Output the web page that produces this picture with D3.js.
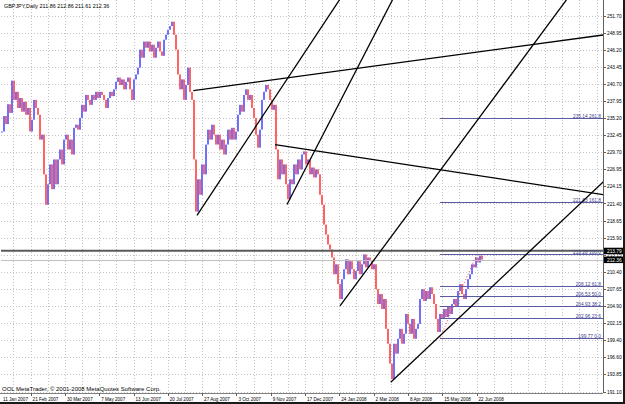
<!DOCTYPE html>
<html>
<head>
<meta charset="utf-8">
<script src="https://cdn.jsdelivr.net/npm/d3@7"></script>
<style>
  body { margin: 0; background: #fff; }
  svg { display: block; }
  text { font-family: "Liberation Sans", Arial, sans-serif; }
</style>
</head>
<body>
<script>
// GBPJPY daily closes, one value per two trading days (Jan 2007 - Jun 2008)
const closes = [
  233.0, 235.5, 234.2, 237.4, 236.0, 241.2, 238.1, 239.4, 236.8, 238.4,
  236.2, 237.8, 235.7, 236.8, 233.0, 234.9, 238.1, 236.8, 235.7, 231.7,
  232.5, 226.1, 221.2, 224.5, 227.7, 223.7, 228.5, 224.5, 228.5, 230.1,
  227.7, 231.7, 232.5, 230.1, 231.7, 229.3, 233.6, 234.1, 233.3, 235.2,
  237.3, 236.2, 238.9, 238.1, 237.3, 238.9, 238.1, 239.4, 238.4, 239.4,
  238.9, 238.1, 236.8, 238.4, 239.4, 238.7, 239.8, 241.0, 241.7, 240.5,
  241.4, 239.8, 241.0, 241.7, 239.8, 238.1, 241.4, 242.2, 243.3, 246.2,
  244.9, 247.5, 246.5, 247.5, 245.9, 247.0, 244.9, 246.5, 247.5, 245.9,
  245.2, 247.8, 248.6, 249.4, 250.0, 250.7, 248.6, 246.2, 242.2, 239.8,
  241.4, 238.1, 240.5, 243.3, 239.4, 238.1, 228.5, 220.1, 225.3, 222.8,
  227.7, 226.1, 230.9, 233.3, 231.7, 234.1, 232.5, 230.9, 232.5, 230.1,
  231.7, 229.3, 230.9, 233.3, 231.7, 233.6, 231.7, 233.0, 235.7, 237.3,
  236.2, 238.9, 239.8, 238.1, 238.9, 236.8, 235.2, 232.5, 230.4, 233.3,
  238.1, 239.4, 240.5, 239.8, 238.1, 236.5, 237.3, 230.1, 225.3, 228.5,
  226.1, 227.7, 224.5, 222.1, 225.3, 224.5, 227.7, 226.1, 228.5, 226.9,
  229.3, 229.8, 227.7, 228.5, 226.1, 227.2, 225.6, 226.9, 226.1, 222.8,
  221.2, 218.0, 216.4, 214.8, 214.0, 212.7, 210.0, 211.6, 208.4, 206.0,
  209.2, 210.8, 212.4, 210.0, 212.1, 210.8, 209.2, 210.5, 212.1, 210.0,
  211.6, 213.2, 211.1, 212.7, 212.1, 210.8, 211.6, 207.6, 205.2, 206.8,
  204.4, 206.0, 201.2, 198.8, 195.6, 193.1, 198.8, 197.2, 199.6, 201.2,
  198.8, 200.4, 203.6, 202.0, 200.4, 202.8, 199.6, 201.2, 202.0, 206.0,
  207.6, 205.7, 207.3, 206.0, 207.9, 206.8, 205.2, 202.8, 200.7, 203.6,
  202.8, 204.4, 203.1, 204.8, 203.6, 205.2, 206.0, 204.8, 207.3, 208.4,
  206.8, 206.0, 207.6, 209.2, 210.0, 211.6, 211.1, 212.7, 211.9, 213.0,
  212.36
];

const priceTicks = [251.70, 248.95, 246.20, 243.45, 240.70, 237.95, 235.20, 232.45,
  229.70, 226.95, 224.15, 221.40, 218.65, 215.90, 213.15, 210.40, 207.65, 204.90,
  202.15, 199.40, 196.60, 193.85, 191.10];

const dateLabels = ["21 Feb 2007", "30 Mar 2007", "7 May 2007", "13 Jun 2007", "20 Jul 2007",
  "27 Aug 2007", "3 Oct 2007", "9 Nov 2007", "17 Dec 2007", "24 Jan 2008", "2 Mar 2008",
  "8 Apr 2008", "15 May 2008", "22 Jun 2008"];
const dateTickBars = [14.3, 31.45, 48.6, 65.75, 82.9, 100.05, 117.2, 134.35, 151.5,
  168.65, 185.8, 202.95, 220.1, 237.25];
const firstDate = "11 Jan 2007";

// Fibonacci retracement: 0% at 199.77, 100% at 213.28
const fibLevels = [0.0, 23.6, 38.2, 50.0, 61.8, 100.0, 161.8, 261.8];
const fibPrices = [199.77, 202.96, 204.93, 206.53, 208.12, 213.28, 221.63, 235.14];
const fibStartBar = 219;
const fibEndBar = 237.5;

// Trend lines (rays): [bar1, price1, bar2, price2]
const trendLines = [
  [97.5, 219.5, 149, 244.6],
  [142.5, 221.25, 179.85, 244.6],
  [169, 204.9, 197.35, 217.25],
  [194.35, 192.6, 249, 209.2],
  [95.65, 239.6, 194, 243.9],
  [136.5, 230.9, 194, 228.07]
];

const hLinePrice = 213.79;
const bidPrice = 212.36;
const title = "GBPJPY,Daily  211.86 212.86 211.61 212.36";
const copyright = "OOL MetaTrader, \u00a9 2001-2008 MetaQuotes Software Corp.";

const width = 625, height = 404;
const plotLeft = 1, plotRight = 603, plotTop = 0, plotBottom = 393;

const svg = d3.select("body").append("svg")
  .attr("width", width).attr("height", height);

svg.append("rect").attr("width", width).attr("height", height).attr("fill", "#fff");

const x = d3.scaleLinear().domain([0, 300.5]).range([2, 603]);
const y = d3.scaleLinear().domain([191.10, 251.70]).range([391.5, 15.5]);

svg.append("clipPath").attr("id", "plot")
  .append("rect")
  .attr("x", plotLeft).attr("y", plotTop)
  .attr("width", plotRight - plotLeft).attr("height", plotBottom - plotTop);

const plot = svg.append("g").attr("clip-path", "url(#plot)");

// grid
const gridStep = (dateTickBars[1] - dateTickBars[0]) / 2;
const gridBars = d3.range(dateTickBars[dateTickBars.length - 1], -5, -gridStep)
  .concat(d3.range(dateTickBars[dateTickBars.length - 1] + gridStep, 310, gridStep));

plot.selectAll(".hgrid").data(priceTicks).enter().append("line")
  .attr("x1", plotLeft).attr("x2", plotRight)
  .attr("y1", d => Math.round(y(d)) + 0.5).attr("y2", d => Math.round(y(d)) + 0.5)
  .attr("stroke", "#c4c4c4").attr("stroke-dasharray", "1,2");

plot.selectAll(".vgrid").data(gridBars).enter().append("line")
  .attr("x1", d => Math.round(x(d)) + 0.5).attr("x2", d => Math.round(x(d)) + 0.5)
  .attr("y1", plotTop).attr("y2", plotBottom)
  .attr("stroke", "#c4c4c4").attr("stroke-dasharray", "1,2");

// bars
const bars = closes.map((c, i) => ({ i, open: i > 0 ? closes[i - 1] : c, close: c }));
plot.selectAll(".bar").data(bars).enter().append("rect")
  .attr("x", d => x(d.i) - 1)
  .attr("width", 2)
  .attr("y", d => y(Math.max(d.open, d.close)))
  .attr("height", d => Math.max(1, Math.abs(y(d.open) - y(d.close))))
  .attr("fill", d => d.close >= d.open ? "#7070ff" : "#ff6464");

// horizontal line and bid line
plot.append("line")
  .attr("x1", plotLeft).attr("x2", plotRight)
  .attr("y1", y(hLinePrice)).attr("y2", y(hLinePrice))
  .attr("stroke", "#5a5a5a").attr("stroke-width", 2);
plot.append("line")
  .attr("x1", plotLeft).attr("x2", plotRight)
  .attr("y1", Math.round(y(bidPrice)) + 0.5).attr("y2", Math.round(y(bidPrice)) + 0.5)
  .attr("stroke", "#c0c0c0");

// fibonacci
plot.append("line")
  .attr("x1", x(fibStartBar)).attr("y1", y(fibPrices[0]))
  .attr("x2", x(fibEndBar)).attr("y2", y(fibPrices[5]))
  .attr("stroke", "#ff4040").attr("stroke-dasharray", "1,2");

plot.selectAll(".fib").data(fibPrices).enter().append("line")
  .attr("x1", x(fibStartBar)).attr("x2", plotRight)
  .attr("y1", d => Math.round(y(d)) + 0.5).attr("y2", d => Math.round(y(d)) + 0.5)
  .attr("stroke", "#5a5aa0");

plot.selectAll(".fibtxt").data(fibPrices).enter().append("text")
  .attr("x", plotRight - 2).attr("y", d => Math.round(y(d)) - 0.5)
  .attr("text-anchor", "end")
  .attr("font-size", 4.8)
  .attr("fill", "#3c3c8c")
  .text((d, i) => d.toFixed(2) + " " + fibLevels[i].toFixed(1));

// trend lines as rays to the right
plot.selectAll(".trend").data(trendLines).enter().append("line")
  .attr("x1", d => x(d[0])).attr("y1", d => y(d[1]))
  .attr("x2", d => x(d[0]) + (x(d[2]) - x(d[0])) * 20)
  .attr("y2", d => y(d[1]) + (y(d[3]) - y(d[1])) * 20)
  .attr("stroke", "#000").attr("stroke-width", 1.3);

// frame
svg.append("line").attr("x1", plotRight + 0.5).attr("x2", plotRight + 0.5)
  .attr("y1", 0).attr("y2", plotBottom).attr("stroke", "#606060");
svg.append("line").attr("x1", 0).attr("x2", plotRight)
  .attr("y1", plotBottom + 0.5).attr("y2", plotBottom + 0.5).attr("stroke", "#808080");

// price axis
const axis = svg.append("g");
axis.selectAll(".ptick").data(priceTicks).enter().append("line")
  .attr("x1", plotRight).attr("x2", plotRight + 3)
  .attr("y1", d => Math.round(y(d)) + 0.5).attr("y2", d => Math.round(y(d)) + 0.5)
  .attr("stroke", "#606060");
axis.selectAll(".plabel").data(priceTicks).enter().append("text")
  .attr("x", plotRight + 4).attr("y", d => y(d) + 2)
  .attr("font-size", 4.8).attr("fill", "#000")
  .text(d => d.toFixed(2));

[hLinePrice, bidPrice].forEach(p => {
  axis.append("rect").attr("x", plotRight + 1).attr("y", y(p) - 3)
    .attr("width", 21).attr("height", 6.5).attr("fill", "#000");
  axis.append("text").attr("x", plotRight + 4).attr("y", y(p) + 2)
    .attr("font-size", 4.8).attr("fill", "#fff").text(p.toFixed(2));
});

// time axis
axis.selectAll(".dtick").data(dateTickBars).enter().append("line")
  .attr("x1", d => Math.round(x(d)) + 0.5).attr("x2", d => Math.round(x(d)) + 0.5)
  .attr("y1", plotBottom).attr("y2", plotBottom + 3)
  .attr("stroke", "#606060");
axis.selectAll(".dlabel").data(dateLabels).enter().append("text")
  .attr("x", (d, i) => x(dateTickBars[i]) + 2).attr("y", 400.5)
  .attr("font-size", 4.6).attr("fill", "#000")
  .text(d => d);
axis.append("text").attr("x", 3).attr("y", 400.5)
  .attr("font-size", 4.6).attr("fill", "#000").text(firstDate);

// titles
svg.append("text").attr("x", 4).attr("y", 8)
  .attr("font-size", 5.4).attr("fill", "#000").text(title);
svg.append("text").attr("x", 2).attr("y", 391)
  .attr("font-size", 6).attr("fill", "#000").text(copyright);

// window border
svg.append("rect").attr("x", 0).attr("y", height - 2).attr("width", width).attr("height", 2).attr("fill", "#1a1a1a");
svg.append("rect").attr("x", width - 2).attr("y", 0).attr("width", 2).attr("height", height).attr("fill", "#1a1a1a");
</script>
</body>
</html>
